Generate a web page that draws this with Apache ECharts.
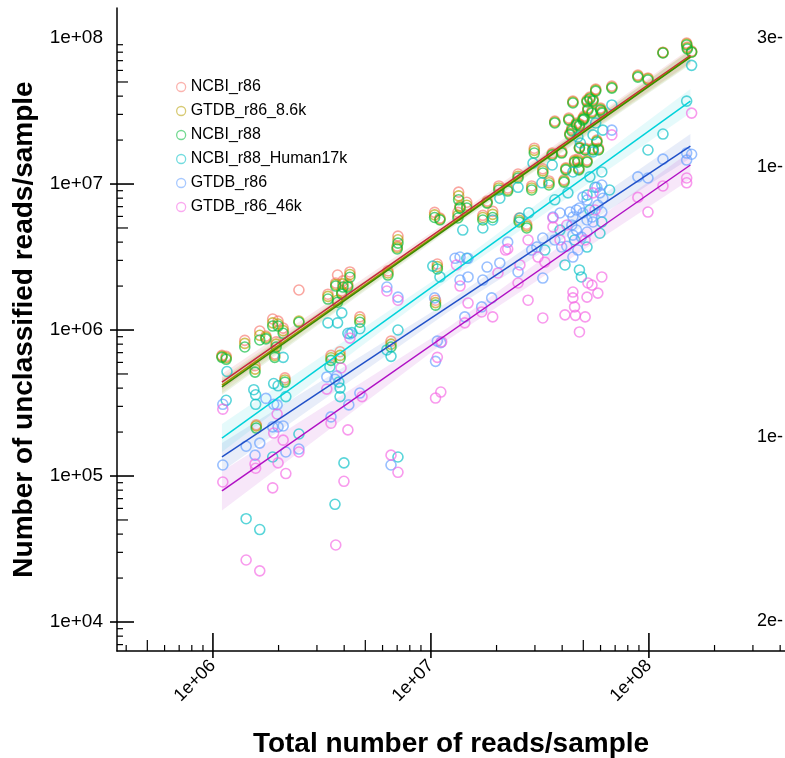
<!DOCTYPE html>
<html>
<head>
<meta charset="utf-8">
<script src="https://cdn.jsdelivr.net/npm/echarts@6/dist/echarts.min.js"></script>
<style>
  html, body { margin: 0; padding: 0; background: #fff; }
  #chart { width: 785px; height: 758px; }
</style>
</head>
<body>
<div id="chart"></div>
<script>
// series names and colours
const seriesNames = ['NCBI_r86', 'GTDB_r86_8.6k', 'NCBI_r88', 'NCBI_r88_Human17k', 'GTDB_r86', 'GTDB_r86_46k']
const pointColors = ['#F8766D', '#B79F00', '#00BA38', '#00BFC4', '#619CFF', '#F564E3']
const lineColors = ['#c8283e', '#a58f00', '#3a8c00', '#00d2da', '#2050c8', '#b010c4']

// samples shared by the three top databases (total reads / sample)
const topReads = [
  1.1e6, 1.15e6, 1.4e6, 1.56e6, 1.58e6, 1.64e6, 1.75e6, 1.88e6, 1.99e6, 2.1e6,
  1.95e6, 1.92e6, 2.14e6, 2.48e6, 3.37e6, 3.48e6, 3.66e6, 3.73e6, 3.83e6, 3.95e6,
  3.9e6, 4.25e6, 4.15e6, 4.72e6, 6.35e6, 6.56e6, 7.06e6, 7.0e6, 1.07e7, 1.05e7,
  1.04e7, 1.1e7, 1.34e7, 1.36e7, 1.46e7, 1.33e7, 1.73e7, 1.92e7, 1.81e7, 2.05e7,
  2.25e7, 2.51e7, 2.54e7, 2.75e7, 2.9e7, 2.98e7, 3.26e7, 3.48e7, 3.6e7, 3.7e7,
  3.98e7, 4.08e7, 4.16e7, 4.29e7, 4.48e7, 4.43e7, 4.34e7, 4.65e7, 4.8e7, 4.56e7,
  4.72e7, 4.77e7, 4.98e7, 5.04e7, 5.2e7, 5.36e7, 5.54e7, 5.7e7, 5.25e7, 5.48e7,
  5.2e7, 5.54e7, 5.77e7, 5.87e7, 6.0e7, 6.1e7, 6.76e7, 8.9e7, 9.9e7, 1.16e8,
  1.49e8, 1.5e8, 1.57e8, 4.8e7, 5.1e7
]
const ncbiR86 = [
  6.7e5, 6.6e5, 8.5e5, 5.7e5, 2.24e5, 9.85e5, 9.1e5, 1.19e6, 1.15e6, 1.03e6,
  8.3e5, 6.85e5, 4.7e5, 1.88e6, 1.76e6, 6.7e5, 2.1e6, 2.38e6, 7.1e5, 2.17e6,
  1.85e6, 2.5e6, 2.07e6, 1.23e6, 2.54e6, 8.4e5, 4.4e6, 3.76e6, 2.83e6, 1.6e6,
  6.4e6, 5.85e6, 8.8e6, 7.1e6, 7.5e6, 6.4e6, 6.1e6, 6.5e6, 7.65e6, 9.7e6,
  9.4e6, 1.17e7, 5.85e6, 5.3e6, 9.7e6, 1.76e7, 1.27e7, 1.05e7, 1.63e7, 2.7e7,
  1.68e7, 1.07e7, 1.29e7, 2.83e7, 3.7e7, 2.42e7, 2.23e7, 2.62e7, 2.58e7, 1.46e7,
  1.48e7, 1.29e7, 2.83e7, 2.92e7, 3.76e7, 3.94e7, 3.82e7, 4.47e7, 3.32e7, 3.16e7,
  1.46e7, 1.76e7, 2.0e7, 1.76e7, 3.32e7, 3.16e7, 4.69e7, 5.58e7, 5.33e7, 8.0e7,
  9.24e7, 8.68e7, 8.13e7, 1.79e7, 1.76e7
]
const gtdbR86_8k = [
  6.6e5, 6.45e5, 8.1e5, 5.4e5, 2.2e5, 9.2e5, 8.9e5, 1.12e6, 1.1e6, 9.9e5,
  8.0e5, 6.7e5, 4.55e5, 1.15e6, 1.7e6, 6.45e5, 2.05e6, 1.6e6, 6.7e5, 2.07e6,
  1.8e6, 2.4e6, 2.02e6, 1.18e6, 2.46e6, 8.0e5, 4.15e6, 3.68e6, 2.72e6, 1.54e6,
  6.15e6, 5.75e6, 8.3e6, 6.95e6, 7.15e6, 6.1e6, 5.9e6, 6.2e6, 7.5e6, 9.4e6,
  9.15e6, 1.13e7, 5.65e6, 5.15e6, 9.4e6, 1.7e7, 1.23e7, 1.02e7, 1.6e7, 2.66e7,
  1.65e7, 1.05e7, 1.27e7, 2.78e7, 3.65e7, 2.36e7, 2.2e7, 2.58e7, 2.54e7, 1.43e7,
  1.44e7, 1.27e7, 2.78e7, 2.85e7, 3.7e7, 3.88e7, 3.76e7, 4.4e7, 3.26e7, 3.11e7,
  1.43e7, 1.73e7, 1.97e7, 1.73e7, 3.26e7, 3.11e7, 4.6e7, 5.5e7, 5.25e7, 7.95e7,
  9.1e7, 8.55e7, 8.05e7, 1.77e7, 1.73e7
]
const ncbiR88 = [
  6.5e5, 6.3e5, 7.65e5, 5.15e5, 2.13e5, 8.55e5, 8.7e5, 1.065e6, 1.065e6, 9.5e5,
  7.65e5, 6.5e5, 4.4e5, 1.13e6, 1.63e6, 6.2e5, 2.0e6, 1.55e6, 6.4e5, 1.97e6,
  1.76e6, 2.3e6, 1.97e6, 1.13e6, 2.38e6, 7.65e5, 3.94e6, 3.59e6, 2.62e6, 1.48e6,
  5.9e6, 5.67e6, 7.8e6, 6.85e6, 6.85e6, 5.85e6, 5.67e6, 5.9e6, 7.4e6, 9.1e6,
  8.95e6, 1.1e7, 5.5e6, 5.0e6, 9.1e6, 1.63e7, 1.19e7, 9.85e6, 1.58e7, 2.62e7,
  1.63e7, 1.03e7, 1.25e7, 2.74e7, 3.59e7, 2.31e7, 2.17e7, 2.54e7, 2.5e7, 1.41e7,
  1.41e7, 1.25e7, 2.74e7, 2.79e7, 3.65e7, 3.82e7, 3.7e7, 4.33e7, 3.21e7, 3.06e7,
  1.41e7, 1.71e7, 1.94e7, 1.71e7, 3.21e7, 3.06e7, 4.54e7, 5.4e7, 5.16e7, 7.9e7,
  8.96e7, 8.41e7, 8.0e7, 1.76e7, 1.71e7
]

// [total reads, unclassified reads]
const human17kPts = [
  [1.16e6, 5.2e5], [1.15e6, 3.3e5], [1.54e6, 3.9e5], [1.57e6, 3.6e5], [1.57e6, 3.1e5], [1.9e6, 4.3e5],
  [1.99e6, 4.15e5], [2.1e6, 6.5e5], [2.16e6, 3.5e5], [1.88e6, 1.35e5], [1.42e6, 5.1e4], [1.64e6, 4.3e4],
  [2.48e6, 1.94e5], [3.37e6, 1.12e6], [3.73e6, 1.12e6], [3.9e6, 1.31e6], [4.16e6, 9.5e5], [4.34e6, 9.6e5],
  [4.72e6, 1.02e6], [3.44e6, 5.6e5], [3.78e6, 4.4e5], [3.83e6, 4.0e5], [3.83e6, 3.5e5], [3.99e6, 1.23e5],
  [3.63e6, 6.4e4], [6.28e6, 7.3e5], [6.56e6, 6.6e5], [7.06e6, 1.0e6], [7.06e6, 1.35e5], [1.02e7, 2.74e6],
  [1.1e7, 2.31e6], [1.4e7, 4.84e6], [1.46e7, 3.1e6], [1.73e7, 5.0e6], [1.92e7, 5.67e6], [2.07e7, 8.0e6],
  [2.51e7, 9.5e6], [2.56e7, 5.85e6], [2.81e7, 6.35e6], [2.94e7, 1.39e7], [3.23e7, 1.02e7], [3.6e7, 1.35e7],
  [4.12e7, 2.79e6], [4.25e7, 8.7e6], [4.48e7, 1.21e7], [4.72e7, 2.1e7], [4.8e7, 2.58e6], [4.9e7, 2.31e6],
  [4.85e7, 1.91e7], [5.2e7, 8.4e6], [5.2e7, 3.7e6], [5.36e7, 1.12e7], [5.54e7, 2.17e7], [5.54e7, 1.66e7],
  [5.66e7, 9.5e6], [5.7e7, 2.62e7], [5.96e7, 4.6e6], [6.08e7, 1.21e7], [6.08e7, 5.5e6], [6.15e7, 2.34e7],
  [6.76e7, 3.48e7], [9.9e7, 1.71e7], [1.16e8, 2.2e7], [1.49e8, 3.7e7], [1.57e8, 6.5e7], [3.91e7, 4.84e6],
  [4.56e7, 4.14e6], [3.33e7, 3.53e6], [6.6e7, 9.1e6], [5.36e7, 6.64e6], [3.7e7, 7.8e6]
]
const gtdbR86Pts = [
  [1.11e6, 3.1e5], [1.11e6, 1.19e5], [1.42e6, 1.6e5], [1.64e6, 1.68e5], [1.56e6, 1.39e5], [1.75e6, 3.4e5],
  [1.9e6, 3.1e5], [1.97e6, 3.07e5], [1.88e6, 2.17e5], [1.99e6, 2.17e5], [2.1e6, 2.2e5], [2.16e6, 1.46e5],
  [2.48e6, 1.53e5], [3.33e6, 4.77e5], [3.63e6, 4.6e5], [3.7e6, 4.85e5], [4.25e6, 9.4e5], [4.72e6, 3.7e5],
  [4.2e6, 3.07e5], [3.48e6, 2.54e5], [6.28e6, 1.97e6], [7.06e6, 1.68e6], [1.07e7, 8.4e5], [1.11e7, 8.2e5],
  [1.05e7, 6.1e5], [1.04e7, 1.66e6], [6.56e6, 1.19e5], [1.29e7, 3.1e6], [1.36e7, 3.16e6], [1.48e7, 3.1e6],
  [1.48e7, 2.31e6], [1.36e7, 2.2e6], [1.43e7, 1.23e6], [1.71e7, 1.44e6], [1.9e7, 1.66e6], [1.73e7, 2.2e6],
  [1.81e7, 2.7e6], [2.07e7, 2.88e6], [2.25e7, 4.0e6], [2.51e7, 2.5e6], [2.9e7, 3.53e6], [3.06e7, 3.7e6],
  [3.26e7, 4.27e6], [3.26e7, 2.27e6], [3.63e7, 5.94e6], [3.7e7, 4.14e6], [3.91e7, 6.33e6], [3.98e7, 3.7e6],
  [4.2e7, 3.75e6], [4.34e7, 6.43e6], [4.43e7, 5.24e6], [4.48e7, 5.94e6], [4.48e7, 4.47e6], [4.48e7, 3.16e6],
  [4.65e7, 6.64e6], [4.65e7, 4.84e6], [4.72e7, 3.53e6], [4.8e7, 6.85e6], [4.9e7, 4.33e6], [4.98e7, 8.13e6],
  [4.98e7, 6.33e6], [5.2e7, 7.77e6], [5.2e7, 5.67e6], [5.2e7, 4.69e6], [5.48e7, 5.94e6], [5.54e7, 5.5e6],
  [5.77e7, 9.5e6], [5.83e7, 7.18e6], [5.96e7, 8.7e6], [6.08e7, 9.85e6], [6.08e7, 6.43e6], [6.15e7, 8.0e6],
  [6.76e7, 2.34e7], [8.9e7, 1.12e7], [9.9e7, 1.1e7], [1.16e8, 1.48e7], [1.49e8, 1.63e7], [1.49e8, 1.46e7],
  [1.57e8, 1.6e7]
]
const gtdb46kPts = [
  [1.11e6, 2.87e5], [1.11e6, 9.1e4], [1.42e6, 2.66e4], [1.64e6, 2.24e4], [1.56e6, 1.21e5], [1.57e6, 1.13e5],
  [1.9e6, 1.97e5], [1.97e6, 2.66e5], [1.99e6, 1.23e5], [2.16e6, 1.04e5], [1.88e6, 8.3e4], [2.1e6, 1.76e5],
  [2.48e6, 1.46e5], [3.48e6, 2.3e5], [3.33e6, 3.94e5], [3.87e6, 5.5e5], [4.25e6, 8.8e5], [4.83e6, 3.5e5],
  [4.16e6, 2.07e5], [3.99e6, 9.2e4], [3.66e6, 3.37e4], [6.28e6, 1.85e6], [7.06e6, 1.6e6], [6.56e6, 1.39e5],
  [7.06e6, 1.06e5], [1.05e7, 3.42e5], [1.11e7, 3.76e5], [1.07e7, 6.5e5], [1.31e7, 2.79e6], [1.12e7, 8.3e5],
  [1.36e7, 2.0e6], [1.43e7, 1.12e6], [1.48e7, 1.53e6], [1.71e7, 1.33e6], [1.92e7, 1.23e6], [2.03e7, 2.46e6],
  [2.25e7, 3.59e6], [2.51e7, 2.1e6], [2.79e7, 4.14e6], [2.79e7, 1.6e6], [3.1e7, 3.16e6], [3.26e7, 1.21e6],
  [3.63e7, 5.85e6], [3.63e7, 5.08e6], [4.12e7, 1.27e6], [4.2e7, 5.24e6], [4.48e7, 1.82e6], [4.48e7, 1.66e6],
  [4.56e7, 1.44e6], [4.6e7, 1.26e6], [4.8e7, 9.7e5], [5.1e7, 1.23e6], [5.2e7, 1.68e6], [5.25e7, 2.1e6],
  [5.48e7, 2.03e6], [5.54e7, 8.7e6], [5.83e7, 1.79e6], [6.08e7, 2.31e6], [6.76e7, 2.17e7], [8.9e7, 8.1e6],
  [9.9e7, 6.43e6], [1.16e8, 9.7e6], [1.49e8, 1.1e7], [1.49e8, 1.02e7], [1.57e8, 3.06e7], [3.33e7, 2.92e6],
  [3.91e7, 4.14e6], [5.1e7, 4.14e6], [5.66e7, 6.64e6], [2.56e7, 2.79e6], [2.2e7, 3.53e6]
]

// fitted lines (ends) and confidence bands (start, middle, end)
const fitReads = [1.1e6, 1.55e8]
const fitValues = [
  [4.4e5, 7.6e7],
  [4.2e5, 7.45e7],
  [4.08e5, 7.4e7],
  [1.82e5, 3.7e7],
  [1.35e5, 1.82e7],
  [7.9e4, 1.35e7]
]
const bandReads = [1.1e6, 1.2e7, 1.55e8]
const bandLower = [
  [3.9e5, 5.05e6, 6.8e7],
  [3.7e5, 4.9e6, 6.7e7],
  [3.6e5, 4.8e6, 6.6e7],
  [1.46e5, 2.19e6, 3.06e7],
  [1.08e5, 1.33e6, 1.5e7],
  [5.8e4, 8.6e5, 1.08e7]
]
const bandUpper = [
  [5.0e5, 5.55e6, 8.5e7],
  [4.75e5, 5.35e6, 8.3e7],
  [4.6e5, 5.3e6, 8.25e7],
  [2.27e5, 2.56e6, 4.47e7],
  [1.68e5, 1.56e6, 2.2e7],
  [1.08e5, 1.04e6, 1.68e7]
]

// axes
const xMin = 3.63e5
const xMax = 4.21e8
const yMin = 6330
const yMax = 1.606e8
const minorSteps = [2, 3, 4, 5, 6, 7, 8, 9]
const xDecades = [1e5, 1e6, 1e7, 1e8]
const yDecades = [1e3, 1e4, 1e5, 1e6, 1e7]
const rightLabels = ['3e-', '1e-', '1e-', '2e-']

const fontFamily = '"Liberation Sans", Arial, Helvetica, sans-serif'

function tickValues(decades, lo, hi) {
  const out = []
  decades.forEach(d => {
    [1].concat(minorSteps).forEach(s => {
      const v = d * s
      if (v >= lo && v <= hi) out.push(v)
    })
  })
  return out
}

function tickKind(v) {
  const l = Math.log10(v)
  if (Math.abs(l - Math.round(l)) < 1e-9) return 'major'
  const m = v / Math.pow(10, Math.floor(l + 1e-9))
  return Math.abs(m - 5) < 1e-6 ? 'mid' : 'minor'
}

function isPow10(v) {
  const l = Math.log10(v)
  return Math.abs(l - Math.round(l)) < 1e-6
}

const chart = echarts.init(document.getElementById('chart'))

const scatterData = [
  topReads.map((x, i) => [x, ncbiR86[i]]),
  topReads.map((x, i) => [x, gtdbR86_8k[i]]),
  topReads.map((x, i) => [x, ncbiR88[i]]),
  human17kPts,
  gtdbR86Pts,
  gtdb46kPts
]

const series = []

// confidence bands
seriesNames.forEach((name, k) => {
  series.push({
    name: name + ' band',
    type: 'custom',
    silent: true,
    z: 1,
    data: bandReads.map((x, i) => [x, bandUpper[k][i]]),
    renderItem(params, api) {
      if (params.dataIndex !== 0) return
      const up = bandReads.map((x, i) => api.coord([x, bandUpper[k][i]]))
      const lo = bandReads.map((x, i) => api.coord([x, bandLower[k][i]])).reverse()
      return {
        type: 'polygon',
        shape: { points: up.concat(lo) },
        style: { fill: lineColors[k], opacity: 0.1 }
      }
    }
  })
})

// points
seriesNames.forEach((name, k) => {
  series.push({
    name,
    type: 'scatter',
    z: 2,
    symbol: 'circle',
    symbolSize: 10,
    data: scatterData[k],
    itemStyle: {
      color: 'rgba(255,255,255,0)',
      borderColor: pointColors[k],
      borderWidth: 1.6,
      opacity: 0.65
    }
  })
})

// fitted lines
seriesNames.forEach((name, k) => {
  series.push({
    name: name + ' fit',
    type: 'line',
    z: 3,
    silent: true,
    showSymbol: false,
    data: fitReads.map((x, i) => [x, fitValues[k][i]]),
    lineStyle: { color: lineColors[k], width: 1.5 }
  })
})

// axis ticks
series.push({
  type: 'custom',
  name: 'xticks',
  silent: true,
  clip: false,
  z: 10,
  data: tickValues(xDecades, xMin, xMax).map(v => [v, 1e6]),
  renderItem(params, api) {
    const v = api.value(0)
    const px = api.coord([v, 1e6])[0]
    const base = params.coordSys.y + params.coordSys.height
    const kind = tickKind(v)
    const up = kind === 'major' ? 18 : kind === 'mid' ? 11 : 6
    const down = kind === 'major' ? 7 : 0
    return {
      type: 'line',
      shape: { x1: px, y1: base - up, x2: px, y2: base + down },
      style: { stroke: '#000', lineWidth: kind === 'major' ? 1.6 : 1.2 }
    }
  }
})
series.push({
  type: 'custom',
  name: 'yticks',
  silent: true,
  clip: false,
  z: 10,
  data: tickValues(yDecades, yMin, yMax).map(v => [1e6, v]),
  renderItem(params, api) {
    const v = api.value(1)
    const py = api.coord([1e6, v])[1]
    const base = params.coordSys.x
    const kind = tickKind(v)
    const right = kind === 'major' ? 17 : kind === 'mid' ? 11 : 6
    const left = kind === 'major' ? 7 : 0
    return {
      type: 'line',
      shape: { x1: base - left, y1: py, x2: base + right, y2: py },
      style: { stroke: '#000', lineWidth: kind === 'major' ? 1.6 : 1.2 }
    }
  }
})

const option = {
  animation: false,
  backgroundColor: '#fff',
  grid: { left: 117, right: 0, top: 8, bottom: 107, containLabel: false, outerBoundsMode: 'none' },
  legend: {
    orient: 'vertical',
    left: 171,
    top: 74,
    itemWidth: 9,
    itemHeight: 9,
    itemGap: 8,
    textStyle: { fontFamily, fontSize: 16, color: '#000' },
    data: seriesNames.map((n, k) => ({
      name: n,
      icon: 'circle',
      itemStyle: { color: 'rgba(255,255,255,0)', borderColor: pointColors[k], borderWidth: 1.3, opacity: 0.55 }
    }))
  },
  xAxis: {
    type: 'log',
    min: xMin,
    max: xMax,
    name: 'Total number of reads/sample',
    nameLocation: 'middle',
    nameGap: 79,
    nameTextStyle: { fontFamily, fontSize: 28, fontWeight: 'bold', color: '#000' },
    axisLine: { show: true, lineStyle: { color: '#000', width: 1.5 } },
    axisTick: { show: false },
    splitLine: { show: false },
    axisLabel: {
      rotate: 45,
      margin: 12,
      fontFamily,
      fontSize: 18,
      color: '#000',
      showMinLabel: false,
      showMaxLabel: false,
      formatter: v => isPow10(v) ? '1e+0' + Math.round(Math.log10(v)) : ''
    }
  },
  yAxis: {
    type: 'log',
    min: yMin,
    max: yMax,
    name: 'Number of unclassified reads/sample',
    nameLocation: 'middle',
    nameGap: 75,
    nameTextStyle: { fontFamily, fontSize: 28, fontWeight: 'bold', color: '#000' },
    axisLine: { show: true, lineStyle: { color: '#000', width: 1.5 } },
    axisTick: { show: false },
    splitLine: { show: false },
    axisLabel: {
      margin: 14,
      fontFamily,
      fontSize: 19,
      color: '#000',
      showMinLabel: false,
      showMaxLabel: false,
      formatter: v => isPow10(v) ? '1e+0' + Math.round(Math.log10(v)) : ''
    }
  },
  graphic: rightLabels.map((t, i) => ({
    type: 'text',
    x: 757,
    y: [38, 167, 437, 621][i],
    style: { text: t, fontFamily, fontSize: 18, fill: '#000', verticalAlign: 'middle' }
  })),
  series
}

chart.setOption(option)
window.onresize = () => {
  chart.resize()
}
</script>
</body>
</html>
